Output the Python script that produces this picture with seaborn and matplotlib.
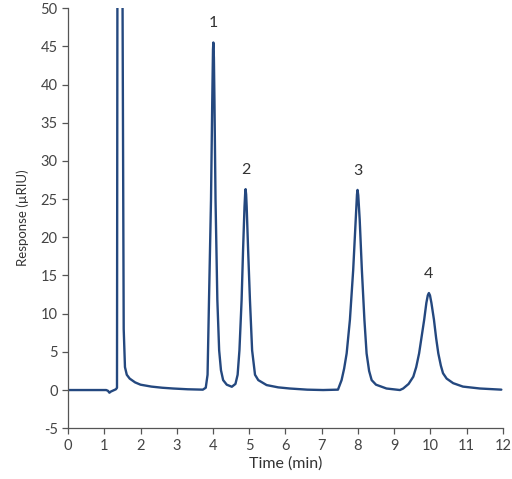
import pandas as pd
import seaborn as sns
import matplotlib.pyplot as plt

# chromatogram trace (time in min, response in uRIU)
time_min = [0.0, 1.05, 1.10, 1.14, 1.18, 1.25, 1.32, 1.35, 1.362, 1.43, 1.50, 1.535,
            1.57, 1.62, 1.70, 1.85, 2.0, 2.3, 2.6, 2.9, 3.3, 3.72,
            3.80, 3.85, 3.89, 3.945, 3.98, 4.0, 4.01, 4.025, 4.04, 4.07, 4.12, 4.17,
            4.22, 4.28, 4.38, 4.52, 4.62, 4.68, 4.73, 4.79, 4.83, 4.87, 4.89, 4.90,
            4.915, 4.93, 4.97, 5.02, 5.08, 5.16, 5.25, 5.48, 5.8, 6.12, 6.6, 7.04,
            7.45, 7.55, 7.62, 7.69, 7.78, 7.87, 7.94, 7.975, 7.99, 8.01, 8.05, 8.11,
            8.18, 8.24, 8.31, 8.38, 8.5, 8.79, 9.16,
            9.25, 9.4, 9.53, 9.61, 9.69, 9.76, 9.83, 9.89, 9.93, 9.96, 9.99, 10.03,
            10.1, 10.16, 10.22, 10.29, 10.35, 10.45, 10.63, 10.9, 11.37, 11.96]
response = [0.0, 0.0, -0.1, -0.35, -0.2, -0.05, 0.1, 0.3, 55.0, 300.0, 55.0, 8.0,
            3.0, 2.0, 1.5, 1.0, 0.7, 0.45, 0.3, 0.2, 0.1, 0.05,
            0.3, 2.0, 11.8, 24.9, 38.0, 44.6, 45.5, 43.5, 38.0, 24.9, 11.8, 5.2,
            2.6, 1.3, 0.7, 0.43, 0.8, 2.0, 5.2, 11.8, 18.3, 24.0, 25.9, 26.3,
            25.6, 24.0, 18.3, 11.8, 5.2, 2.0, 1.3, 0.65, 0.35, 0.2, 0.05, 0.0,
            0.05, 1.3, 2.8, 4.8, 9.2, 15.7, 22.3, 25.6, 26.2, 25.5, 22.3, 15.7,
            9.2, 4.8, 2.5, 1.3, 0.7, 0.2, 0.0,
            0.2, 0.8, 1.75, 3.0, 4.8, 7.0, 9.2, 11.4, 12.4, 12.7, 12.4, 11.4,
            9.2, 6.8, 4.8, 3.2, 2.2, 1.5, 0.9, 0.45, 0.2, 0.05]

peak_labels = ['1', '2', '3', '4']
peak_times = [4.01, 4.90, 7.99, 9.96]
peak_heights = [45.5, 26.3, 26.2, 12.7]

df = pd.DataFrame({'time': time_min, 'response': response})

sns.set_style('ticks')
plt.rcParams['font.family'] = ['Lato', 'DejaVu Sans']
plt.rcParams['axes.unicode_minus'] = False

fig = plt.figure(figsize=(5.12, 4.79), dpi=100)
ax = fig.add_axes([0.133, 0.106, 0.849, 0.877])
sns.lineplot(data=df, x='time', y='response', ax=ax, color='#24487f',
             linewidth=1.7, sort=False, estimator=None)

for lab, t, h in zip(peak_labels, peak_times, peak_heights):
    ax.text(t, h + 1.6, lab, ha='center', va='bottom', fontsize=11.5, color='#333333')

ax.set_xlim(0, 12)
ax.set_ylim(-5, 50)
ax.set_xticks(range(0, 13))
ax.set_yticks(range(-5, 51, 5))
ax.set_xlabel('Time (min)', fontsize=11.5, color='#333333', labelpad=3)
ax.set_ylabel('Response (µRIU)', fontsize=9.5, color='#333333', labelpad=8)
ax.tick_params(labelsize=10.5, colors='#555555', labelcolor='#444444', length=4, width=0.9)
sns.despine(ax=ax)
for side in ['left', 'bottom']:
    ax.spines[side].set_color('#555555')
    ax.spines[side].set_linewidth(0.9)

plt.savefig('out.png', dpi=100)
